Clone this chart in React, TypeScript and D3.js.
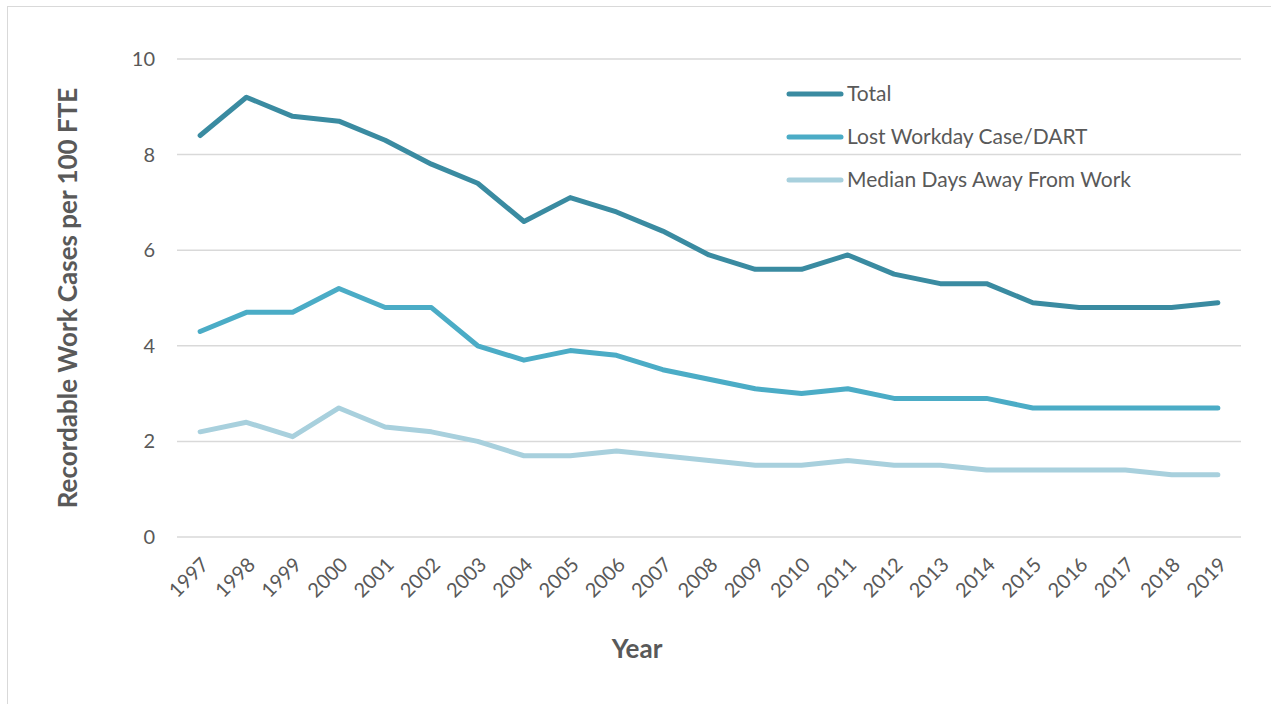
import React, { useEffect, useRef } from 'react'
import * as d3 from 'd3'

const years = ['1997', '1998', '1999', '2000', '2001', '2002', '2003', '2004', '2005', '2006', '2007', '2008',
  '2009', '2010', '2011', '2012', '2013', '2014', '2015', '2016', '2017', '2018', '2019']
const total = [8.4, 9.2, 8.8, 8.7, 8.3, 7.8, 7.4, 6.6, 7.1, 6.8, 6.4, 5.9, 5.6, 5.6, 5.9, 5.5, 5.3, 5.3, 4.9, 4.8, 4.8, 4.8, 4.9]
const dart = [4.3, 4.7, 4.7, 5.2, 4.8, 4.8, 4.0, 3.7, 3.9, 3.8, 3.5, 3.3, 3.1, 3.0, 3.1, 2.9, 2.9, 2.9, 2.7, 2.7, 2.7, 2.7, 2.7]
const median = [2.2, 2.4, 2.1, 2.7, 2.3, 2.2, 2.0, 1.7, 1.7, 1.8, 1.7, 1.6, 1.5, 1.5, 1.6, 1.5, 1.5, 1.4, 1.4, 1.4, 1.4, 1.3, 1.3]
const yTicks = [0, 2, 4, 6, 8, 10]

const seriesNames = ['Total', 'Lost Workday Case/DART', 'Median Days Away From Work']
const seriesColors = ['#3A8BA1', '#4BACC6', '#A8D0DD']

const FONT = 'Lato, Calibri, sans-serif'
const TEXT = '#595959'

export default function App() {
  const ref = useRef<SVGSVGElement>(null)

  useEffect(() => {
    const W = 1271, H = 704
    const margin = { top: 59, right: 30, bottom: 167, left: 177 }
    const svg = d3.select(ref.current)
    svg.selectAll('*').remove()

    // chart frame
    svg.append('rect')
      .attr('x', 7.5).attr('y', 6.5)
      .attr('width', W + 10).attr('height', H + 10)
      .attr('fill', '#fff').attr('stroke', '#D9D9D9')

    const x = d3.scaleBand().domain(years).range([margin.left, W - margin.right])
    const y = d3.scaleLinear().domain([0, 10]).range([H - margin.bottom, margin.top])
    const cx = (d: string) => (x(d) as number) + x.bandwidth() / 2

    const g = svg.append('g')

    // gridlines + y labels
    yTicks.forEach(t => {
      g.append('line')
        .attr('x1', margin.left).attr('x2', W - margin.right)
        .attr('y1', y(t)).attr('y2', y(t))
        .attr('stroke', '#D9D9D9').attr('stroke-width', 1.5)
      g.append('text')
        .attr('x', 155).attr('y', y(t))
        .attr('dy', '0.35em')
        .attr('text-anchor', 'end')
        .attr('font-family', FONT).attr('font-size', 20)
        .attr('fill', TEXT)
        .text(t)
    })

    // x labels
    years.forEach(yr => {
      const px = cx(yr) + 5, py = y(0) + 24
      g.append('text')
        .attr('transform', `translate(${px},${py}) rotate(-45)`)
        .attr('text-anchor', 'end')
        .attr('dy', '0.35em')
        .attr('font-family', FONT).attr('font-size', 20)
        .attr('fill', TEXT)
        .text(yr)
    })

    // lines
    const line = d3.line<number>()
      .x((_, i) => cx(years[i]))
      .y(d => y(d))
    ;[total, dart, median].forEach((s, i) => {
      g.append('path')
        .datum(s)
        .attr('d', line)
        .attr('fill', 'none')
        .attr('stroke', seriesColors[i])
        .attr('stroke-width', 5)
        .attr('stroke-linejoin', 'round')
        .attr('stroke-linecap', 'round')
    })

    // legend
    seriesNames.forEach((n, i) => {
      const ly = 94 + i * 43
      g.append('line')
        .attr('x1', 789).attr('x2', 841)
        .attr('y1', ly).attr('y2', ly)
        .attr('stroke', seriesColors[i]).attr('stroke-width', 5)
        .attr('stroke-linecap', 'round')
      g.append('text')
        .attr('x', 847).attr('y', ly).attr('dy', '0.35em')
        .attr('font-family', FONT).attr('font-size', 21)
        .attr('fill', TEXT)
        .text(n)
    })

    // axis titles
    g.append('text')
      .attr('transform', `translate(68,${(y(0) + y(10)) / 2}) rotate(-90)`)
      .attr('text-anchor', 'middle').attr('dy', '0.35em')
      .attr('font-family', FONT).attr('font-size', 26).attr('font-weight', 'bold')
      .attr('fill', TEXT)
      .text('Recordable Work Cases per 100 FTE')
    g.append('text')
      .attr('x', 637).attr('y', 649).attr('dy', '0.35em')
      .attr('text-anchor', 'middle')
      .attr('font-family', FONT).attr('font-size', 26).attr('font-weight', 'bold')
      .attr('fill', TEXT)
      .text('Year')
  }, [])

  return (
    <svg ref={ref} width={1271} height={704}
      style={{ position: 'absolute', left: 0, top: 0, display: 'block' }} />
  )
}
